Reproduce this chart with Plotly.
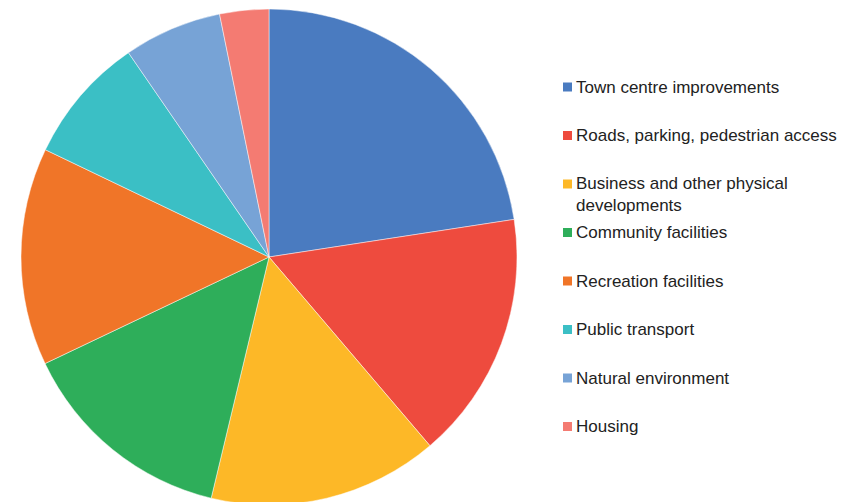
import plotly.graph_objects as go

labels = ["Town centre improvements", "Roads, parking, pedestrian access",
          "Business and other physical developments", "Community facilities",
          "Recreation facilities", "Public transport", "Natural environment", "Housing"]
legend_text = ["Town centre improvements", "Roads, parking, pedestrian access",
               "Business and other physical<br>developments", "Community facilities",
               "Recreation facilities", "Public transport", "Natural environment", "Housing"]
values = [22.6, 16.2, 15.0, 14.2, 14.2, 8.3, 6.4, 3.2]
colors = ["#4A7BC0", "#EE4B3E", "#FDB827", "#2EAE5A", "#F07528", "#3BBFC5", "#77A3D6", "#F47B72"]

OFF = 8  # page body margin
W, H = 857 - OFF, 508 - OFF
cx, cy, r = 269 - OFF, 257 - OFF, 248

fig = go.Figure(go.Pie(
    labels=labels, values=values, sort=False, direction="clockwise", rotation=0,
    marker=dict(colors=colors, line=dict(color="rgba(255,255,255,0.6)", width=0.8)),
    textinfo="none", hoverinfo="label+percent", showlegend=False,
    domain=dict(x=[(cx - r) / W, (cx + r) / W], y=[1 - (cy + r) / H, 1 - (cy - r) / H]),
))

shapes, annotations = [], []
for i, (txt, col) in enumerate(zip(legend_text, colors)):
    yc = 87 + 48.5 * i - OFF
    shapes.append(dict(type="rect", xref="paper", yref="paper",
                       x0=(563 - OFF) / W, x1=(572 - OFF) / W,
                       y0=1 - (yc + 4.5) / H, y1=1 - (yc - 4.5) / H,
                       fillcolor=col, line=dict(width=0)))
    lines = txt.count("<br>") + 1
    ytext = yc + (lines - 1) * 10.5
    annotations.append(dict(x=(574 - OFF) / W, y=1 - ytext / H, xref="paper", yref="paper",
                            xanchor="left", yanchor="middle", align="left", showarrow=False,
                            text=txt, font=dict(family="Liberation Sans, Arial", size=17, color="#222222")))

fig.update_layout(width=W, height=H, margin=dict(l=0, r=0, t=0, b=0),
                  paper_bgcolor="white", plot_bgcolor="white",
                  shapes=shapes, annotations=annotations, showlegend=False)
fig.write_html("out.html")
